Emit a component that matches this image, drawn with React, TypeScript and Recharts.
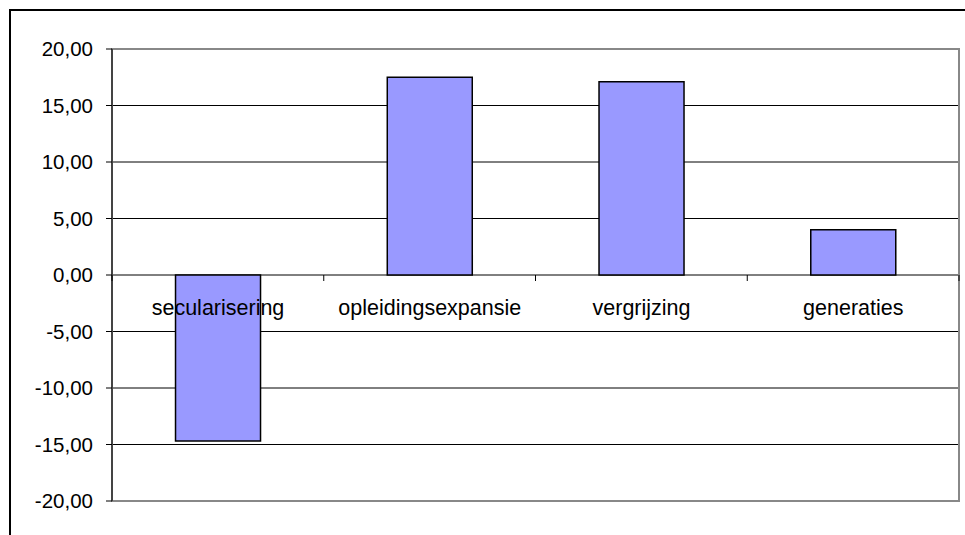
import { Bar, BarChart, CartesianGrid, LabelList, ReferenceArea, XAxis, YAxis } from "recharts"

const categories = ["secularisering", "opleidingsexpansie", "vergrijzing", "generaties"]
const effects = [-14.7, 17.5, 17.1, 4.0]
const yTicks = [-20, -15, -10, -5, 0, 5, 10, 15, 20]

const data = categories.map((name, i) => ({ name, value: effects[i] }))

const PLOT_H = 452
const BAND = 847 / 4
const FONT = "Liberation Sans, Arial, sans-serif"

const fmt = (v: number) => v.toFixed(2).replace(".", ",")

// small tick marks hanging below the zero line, between categories
function BoundaryTick(props: any) {
  const { x, y, index } = props
  const zeroY = y - PLOT_H / 2
  return (
    <g>
      {index === 0 && <line x1={x - BAND / 2} x2={x - BAND / 2} y1={zeroY} y2={zeroY + 6} stroke="#000" />}
      <line x1={x + BAND / 2} x2={x + BAND / 2} y1={zeroY} y2={zeroY + 6} stroke="#000" />
    </g>
  )
}

// category names drawn on top of the bars, just under the zero line
function CategoryLabel(props: any) {
  const { x, y, width, height, value, index } = props
  const v = effects[index]
  let zeroY
  if (v >= 0) zeroY = y + Math.abs(height)
  else zeroY = height < 0 ? y + height : y
  return (
    <text x={x + width / 2} y={zeroY + 40} textAnchor="middle" fill="#000" fontSize={21.5} fontFamily={FONT}>
      {value}
    </text>
  )
}

export default function App() {
  return (
    <div
      style={{
        position: "absolute",
        left: 9,
        top: 9,
        width: 954,
        height: 524,
        borderTop: "2px solid #000",
        borderLeft: "2px solid #000",
        background: "#fff",
      }}
    >
      <BarChart
        width={954}
        height={524}
        data={data}
        margin={{ top: 38, right: 6, left: 0, bottom: 4 }}
        barCategoryGap="30%"
      >
        <CartesianGrid vertical={false} stroke="#000" strokeWidth={1} />
        <ReferenceArea y1={-20} y2={20} fill="none" stroke="#888" strokeWidth={2} ifOverflow="visible" />
        <XAxis
          dataKey="name"
          height={30}
          axisLine={false}
          tickLine={false}
          tickSize={0}
          tickMargin={0}
          interval={0}
          tick={<BoundaryTick />}
        />
        <YAxis
          width={101}
          domain={[-20, 20]}
          ticks={yTicks}
          interval={0}
          tickFormatter={fmt}
          stroke="#000"
          tickSize={6}
          tickMargin={13}
          tick={{ fill: "#000", fontSize: 20.5, fontFamily: FONT }}
          allowDataOverflow
        />
        <Bar dataKey="value" fill="#9999ff" stroke="#000" strokeWidth={1.5} isAnimationActive={false}>
          <LabelList dataKey="name" content={<CategoryLabel />} />
        </Bar>
      </BarChart>
    </div>
  )
}
